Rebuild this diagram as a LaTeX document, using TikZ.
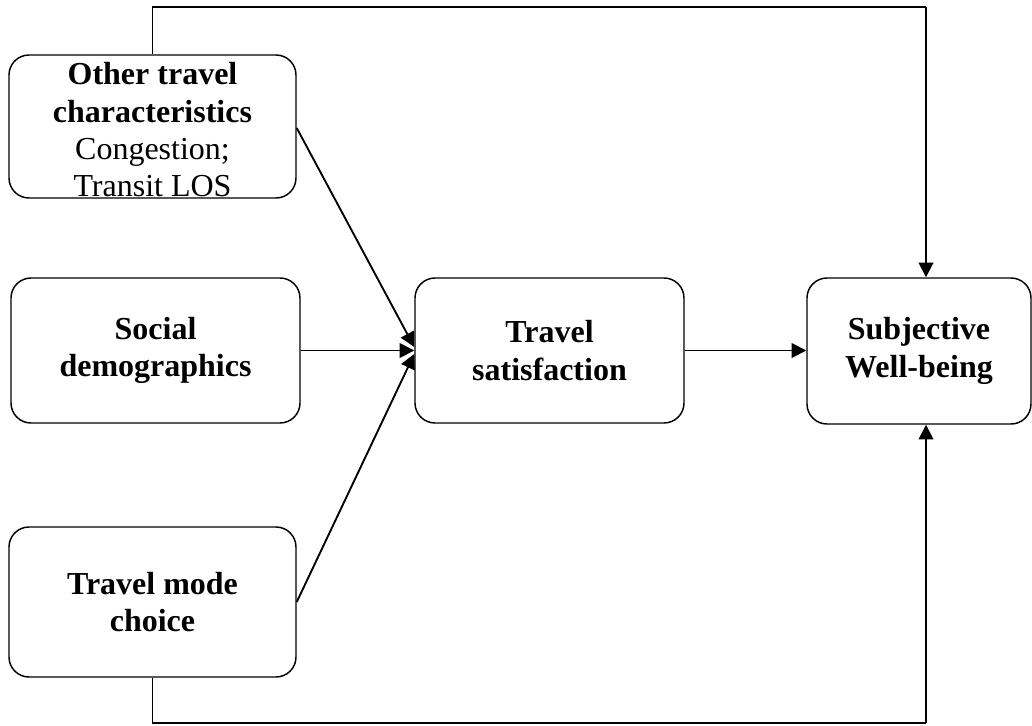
\documentclass[tikz,border=0pt]{standalone}
\usepackage{fontspec}
\setmainfont{Liberation Serif}
\usetikzlibrary{arrows.meta}
\begin{document}
\begin{tikzpicture}[x=0.75pt,y=-0.75pt,
  txt/.style={align=center,inner sep=0pt,font=\fontsize{24}{28}\selectfont},
  box/.style={draw,line width=1.1pt,rounded corners=15pt,txt},
  conn/.style={line width=1.4pt},
  arr/.style={conn,-{Triangle[length=11pt,width=11pt]}}]
\useasboundingbox (0,0) rectangle (1032,725);
\node[box,minimum width=287*0.75pt,minimum height=143*0.75pt] (other) at (152.5,126.5) {};
\node[txt] (othertext) at (152.5,130)
  {\textbf{Other travel}\\\textbf{characteristics}\\Congestion;\\Transit LOS};
\node[box,minimum width=289*0.75pt,minimum height=145*0.75pt] (social) at (155.5,350.5)
  {\textbf{Social}\\\textbf{demographics}};
\node[box,minimum width=287*0.75pt,minimum height=150*0.75pt] (mode) at (152.5,602)
  {\textbf{Travel mode}\\\textbf{choice}};
\node[box,minimum width=269*0.75pt,minimum height=145*0.75pt] (sat) at (549.5,350.5)
  {\textbf{Travel}\\\textbf{satisfaction}};
\node[box,minimum width=224*0.75pt,minimum height=146*0.75pt] (swb) at (919,351)
  {\textbf{Subjective}\\\textbf{Well-being}};
\coordinate (tr) at (926,7);
\coordinate (br) at (926,723);
\coordinate (o1) at (other.east |- 0,128);
\coordinate (m1) at (mode.east |- 0,602);
\coordinate (t1) at (sat.west |- 0,347);
\coordinate (t2) at (sat.west |- 0,350.5);
\coordinate (t3) at (sat.west |- 0,354);
\draw[arr] (o1) -- (t1);
\draw[arr] (social.east) -- (t2);
\draw[arr] (m1) -- (t3);
\draw[arr] (sat.east) -- (swb.west |- sat.east);
\draw[conn] (other.north) |- (tr);
\draw[arr] (tr) -- (tr |- swb.north);
\draw[conn] (mode.south) |- (br);
\draw[arr] (br) -- (br |- swb.south);
\end{tikzpicture}
\end{document}
